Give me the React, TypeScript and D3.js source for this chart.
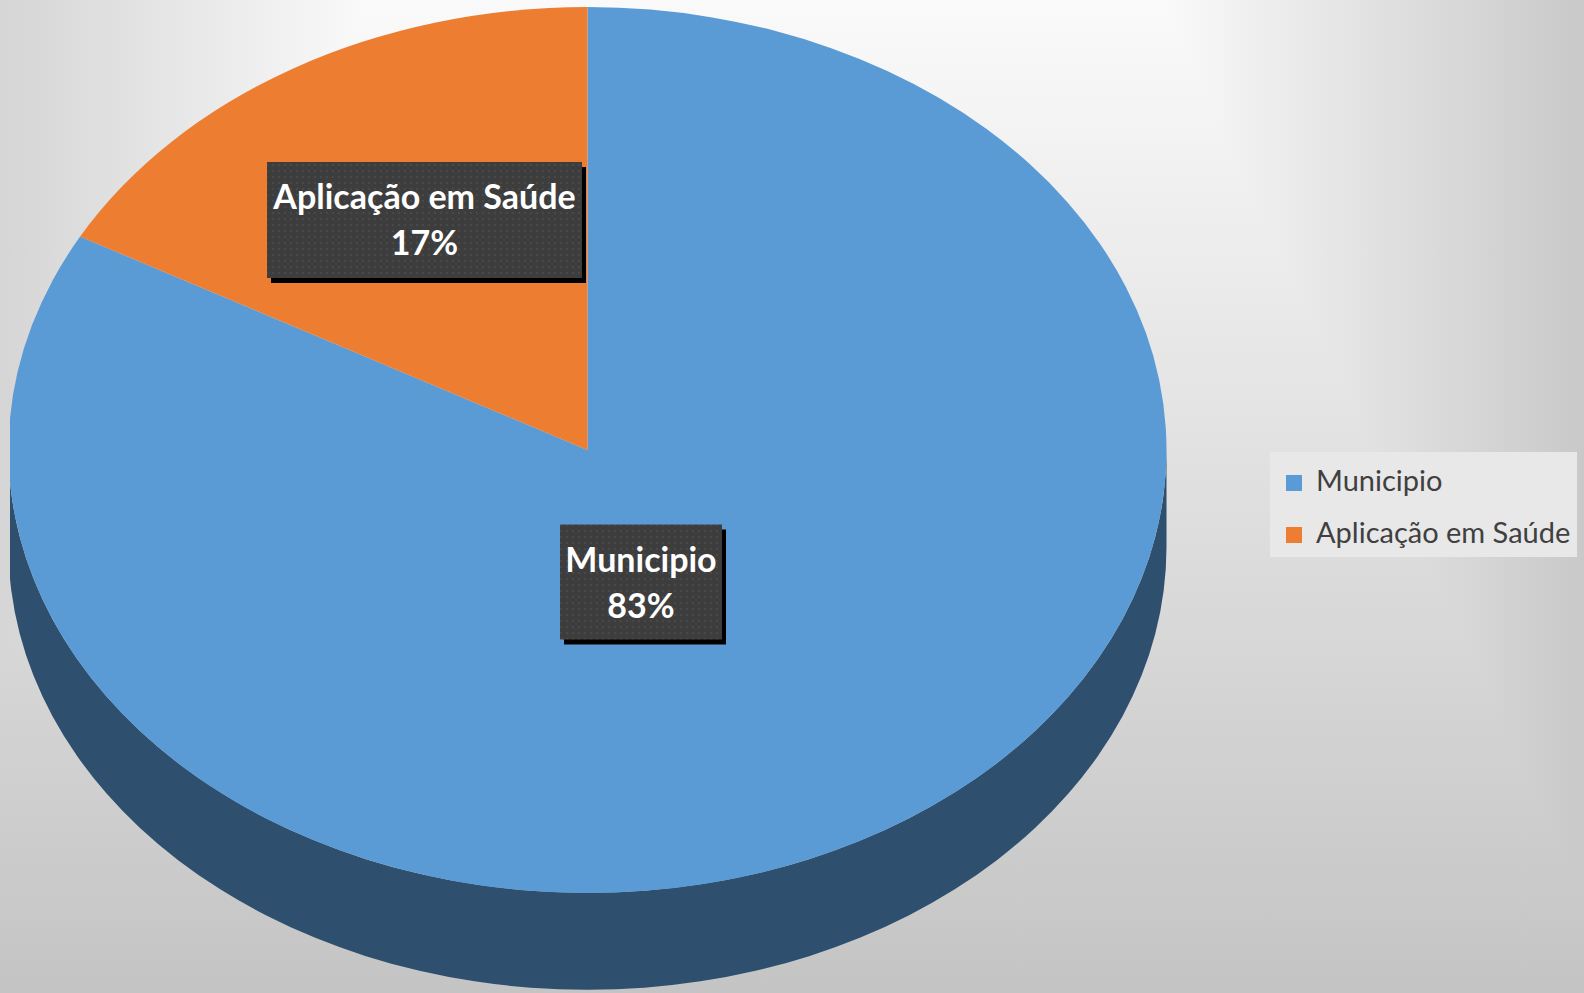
import * as d3 from "d3";

const categories = ["Municipio", "Aplicação em Saúde"];
const values = [83, 17];
const colors = ["#5B9BD5", "#ED7D31"];

const W = 1584;
const H = 993;

// pie geometry (top face is an ellipse, side is an extruded band)
const cx = 587.5;
const cy = 450;
const rx = 579;
const ry = 443;
const depth = 97;

// label box centres and legend placement
const labelBoxes = [
  { x: 641, y: 582, w: 162, h: 115 },
  { x: 424.5, y: 220, w: 315, h: 116 },
];

const bg = { x1: 370, x2: 1160, center: "#fafafa", left: "#d5d5d5", right: "#c9c9c9", bottom: "#c4c4c4" };

function pt(a: number, dy = 0) {
  return [cx + rx * Math.sin(a), cy - ry * Math.cos(a) + dy];
}

export default function App() {
  const pie = d3
    .pie<number>()
    .sort(null)
    .value((d) => d);
  const arcs = pie(values);
  const arc = d3.arc<d3.PieArcDatum<number>>().innerRadius(0).outerRadius(rx);

  const sides = arcs
    .map((d, i) => {
      const a0 = Math.max(d.startAngle, Math.PI / 2);
      const a1 = Math.min(d.endAngle, (3 * Math.PI) / 2);
      if (a1 <= a0) return null;
      const [x0, y0] = pt(a0);
      const [x1, y1] = pt(a1);
      const p =
        `M${x0},${y0} A${rx},${ry} 0 0 1 ${x1},${y1} L${x1},${y1 + depth} ` +
        `A${rx},${ry} 0 0 0 ${x0},${y0 + depth} Z`;
      return { p, color: d3.interpolateRgb(colors[i], "#000")(0.49) };
    })
    .filter(Boolean) as { p: string; color: string }[];

  return (
    <svg
      width={W}
      height={H}
      viewBox={`0 0 ${W} ${H}`}
      style={{ position: "absolute", left: 0, top: 0 }}
      fontFamily="Lato, 'Open Sans', sans-serif"
    >
      <defs>
        <linearGradient id="gx" gradientUnits="userSpaceOnUse" x1={0} y1={0} x2={W} y2={0}>
          <stop offset="0" stopColor={bg.left} />
          <stop offset={bg.x1 / W} stopColor={bg.center} />
          <stop offset={bg.x2 / W} stopColor={bg.center} />
          <stop offset="1" stopColor={bg.right} />
        </linearGradient>
        <linearGradient id="gy" gradientUnits="userSpaceOnUse" x1={0} y1={0} x2={0} y2={H}>
          <stop offset="0" stopColor={bg.center} />
          <stop offset="1" stopColor={bg.bottom} />
        </linearGradient>
        <pattern id="dots" patternUnits="userSpaceOnUse" width={6} height={6}>
          <rect width={6} height={6} fill="#3d3d3d" />
          <circle cx={3} cy={3} r={1.1} fill="#4b4b4b" />
        </pattern>
        <clipPath id="plot">
          <rect x={10} y={0} width={W - 10} height={H} />
        </clipPath>
      </defs>

      {/* background: darker of a horizontal and a vertical gradient */}
      <g style={{ isolation: "isolate" }}>
        <rect width={W} height={H} fill="url(#gy)" />
        <rect width={W} height={H} fill="url(#gx)" style={{ mixBlendMode: "darken" }} />
      </g>

      <g clipPath="url(#plot)">
        {sides.map((s, i) => (
          <path key={i} d={s.p} fill={s.color} />
        ))}
        <g transform={`translate(${cx},${cy}) scale(1,${ry / rx})`}>
          {arcs.map((d, i) => (
            <path key={i} d={arc(d) || ""} fill={colors[i]} />
          ))}
        </g>
      </g>

      {/* data labels */}
      {arcs.map((d, i) => {
        const b = labelBoxes[i];
        const pct = Math.round((d.value / d3.sum(values)) * 100);
        const x0 = b.x - b.w / 2;
        const y0 = b.y - b.h / 2;
        return (
          <g key={i}>
            <rect x={x0 + 4} y={y0 + 5} width={b.w} height={b.h} fill="#000" />
            <rect x={x0} y={y0} width={b.w} height={b.h} fill="url(#dots)" />
            <text
              x={b.x}
              textAnchor="middle"
              fill="#fff"
              fontWeight={700}
              fontSize={34}
            >
              <tspan x={b.x} y={y0 + 47}>
                {categories[i]}
              </tspan>
              <tspan x={b.x} y={y0 + 93}>
                {pct}%
              </tspan>
            </text>
          </g>
        );
      })}

      {/* legend */}
      <g>
        <rect x={1270} y={452} width={307} height={105} fill="#e8e8e8" />
        {categories.map((c, i) => (
          <g key={c} transform={`translate(1286,${475 + i * 52})`}>
            <rect width={16} height={16} fill={colors[i]} />
            <text x={30} y={16} fontSize={29} fill="#404040">
              {c}
            </text>
          </g>
        ))}
      </g>
    </svg>
  );
}
